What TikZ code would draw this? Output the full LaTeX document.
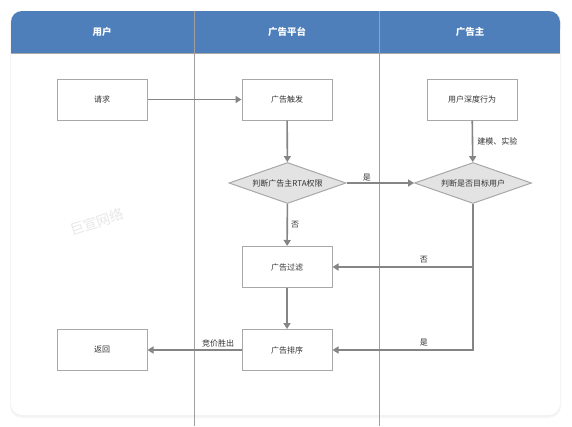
\documentclass[tikz,border=0pt]{standalone}
\usepackage{fontspec}
\setmainfont{Noto Sans CJK SC}
\usetikzlibrary{arrows.meta,shapes.geometric}
\definecolor{hdr}{HTML}{4E7FBB}
\definecolor{ln}{HTML}{858585}
\definecolor{bx}{HTML}{A8A8A8}
\definecolor{dfill}{HTML}{E3E3E3}
\definecolor{lane}{HTML}{A0A0A0}
\tikzset{
  procbox/.style={draw=bx, line width=1pt, fill=white, minimum width=90pt, minimum height=41pt, inner sep=0pt, font=\fontsize{8}{9}\selectfont, text=black!80},
  decbox/.style={diamond, aspect=2.85, draw=bx, line width=1pt, fill=dfill, minimum width=117pt, minimum height=41pt, inner sep=0pt, font=\fontsize{8}{9}\selectfont, text=black!80},
  conn/.style={draw=ln, line width=1.6pt, -{Triangle[width=7pt,length=6pt]}},
  lbl/.style={font=\fontsize{8}{9}\selectfont, text=black!80, inner sep=1pt},
  hdrtxt/.style={font=\bfseries\fontsize{9.5}{11}\selectfont, text=white}
}
\begin{document}
\begin{tikzpicture}[x=1pt,y=-1pt]
\useasboundingbox (0,0) rectangle (572,426);
\fill[white] (0,0) rectangle (572,426);
% card with soft shadow
\fill[black!3, rounded corners=12pt] (10,11) rectangle (561,418);
\fill[black!5, rounded corners=11pt] (10.5,11) rectangle (560.5,416.5);
\fill[white, rounded corners=11pt] (11,11) rectangle (560,415);
% header
\fill[hdr, rounded corners=11pt] (11,11) rectangle (560,40);
\fill[hdr] (11,30) rectangle (560,53);
\draw[bx, line width=0.8pt] (11,53) -- (560,53);
% lanes
\draw[lane, line width=1pt] (194,11) -- (194,426);
\draw[lane, line width=1pt] (379,11) -- (379,426);
\node[hdrtxt] (h1) at (102,32) {用户};
\node[hdrtxt] (h2) at (287,32) {广告平台};
\node[hdrtxt] (h3) at (470,32) {广告主};
% watermark
\node[rotate=18, text=black!9, font=\fontsize{14}{16}\selectfont] (wm) at (97,222) {巨宣网络};
% nodes
\node[procbox] (req) at (102,99.5) {请求};
\node[procbox] (trig) at (287,99.5) {广告触发};
\node[procbox] (deep) at (472,99.5) {用户深度行为};
\node[decbox] (d1) at (287.5,183) {判断广告主RTA权限};
\node[decbox] (d2) at (473,183) {判断是否目标用户};
\node[procbox] (filt) at (287,267) {广告过滤};
\node[procbox] (sort) at (287,350) {广告排序};
\node[procbox] (ret) at (102,350) {返回};
% connectors
\draw[conn] (req) -- (trig);
\draw[conn] (trig) -- (d1);
\draw[conn] (d1) -- node[lbl, above, pos=0.3] {是} (d2);
\draw[conn] (d1) -- node[lbl, right, pos=0.5, xshift=2pt] {否} (filt);
\draw[conn] (deep) -- node[lbl, right, xshift=3pt] {建模、实验} (d2);
\coordinate (c1) at (473,267);
\coordinate (c2) at (473,350);
\draw[conn] (d2.south) -- (c1) -- node[lbl, above, pos=0.35, yshift=2pt] {否} (filt.east);
\draw[conn] (c1) -- (c2) -- node[lbl, above, pos=0.35, yshift=2pt] {是} (sort.east);
\draw[conn] (filt) -- (sort);
\draw[conn] (sort) -- node[lbl, above, pos=0.25, yshift=1pt] {竞价胜出} (ret);
\end{tikzpicture}
\end{document}
